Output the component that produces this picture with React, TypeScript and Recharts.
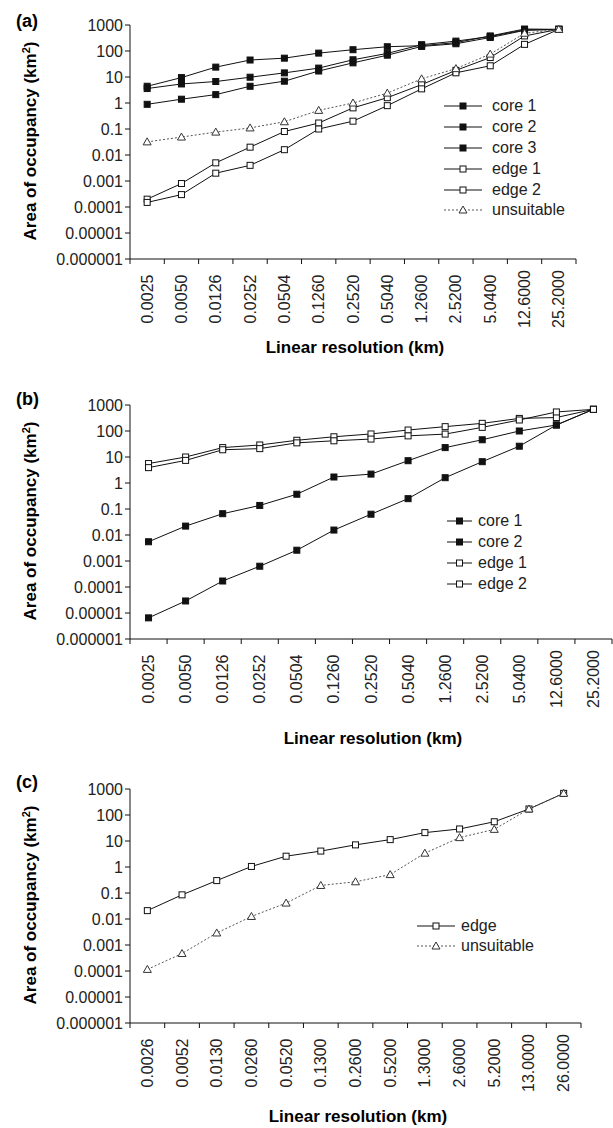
import React from "react";
import { LineChart, Line, XAxis, YAxis } from "recharts";

const FONT = "'Liberation Sans', Arial, Helvetica, sans-serif";

// x categories (linear resolution, km)
const resolutionsAB = ["0.0025", "0.0050", "0.0126", "0.0252", "0.0504", "0.1260", "0.2520", "0.5040", "1.2600", "2.5200", "5.0400", "12.6000", "25.2000"];
const resolutionsC = ["0.0026", "0.0052", "0.0130", "0.0260", "0.0520", "0.1300", "0.2600", "0.5200", "1.3000", "2.6000", "5.2000", "13.0000", "26.0000"];

const yTicks = [0.000001, 0.00001, 0.0001, 0.001, 0.01, 0.1, 1, 10, 100, 1000];
const yTickLabels = ["0.000001", "0.00001", "0.0001", "0.001", "0.01", "0.1", "1", "10", "100", "1000"];

// panel (a)
const aCore1 = [4.4, 9.5, 24, 45, 53, 83, 112, 146, 160, 210, 380, 700, 680];
const aCore2 = [3.6, 5.4, 6.7, 9.8, 14.4, 22, 46, 81, 175, 240, 360, 650, 680];
const aCore3 = [0.89, 1.4, 2.1, 4.4, 6.9, 17, 35, 69, 150, 190, 330, 620, 680];
const aEdge1 = [0.0002, 0.0008, 0.005, 0.02, 0.08, 0.17, 0.65, 1.6, 5.1, 18, 56, 380, 680];
const aEdge2 = [0.00015, 0.0003, 0.002, 0.004, 0.016, 0.1, 0.2, 0.79, 3.5, 14.5, 27, 180, 680];
const aUnsuitable = [0.032, 0.049, 0.076, 0.11, 0.19, 0.52, 1.0, 2.4, 8.5, 21, 76, 480, 680];

// panel (b)
const bCore1 = [0.0055, 0.022, 0.066, 0.137, 0.37, 1.7, 2.2, 7.2, 23, 46, 100, 170, 680];
const bCore2 = [0.0000065, 0.000029, 0.00017, 0.00063, 0.0026, 0.0155, 0.063, 0.25, 1.6, 6.6, 26, 170, 680];
const bEdge1 = [5.6, 10, 23, 29, 44, 60, 77, 109, 147, 197, 305, 330, 680];
const bEdge2 = [3.9, 7.4, 19, 21, 35, 42, 49, 65, 76, 138, 265, 540, 680];

// panel (c)
const cEdge = [0.021, 0.085, 0.3, 1.05, 2.6, 4.1, 7.1, 11.3, 21, 29, 55, 170, 680];
const cUnsuitable = [0.000115, 0.00047, 0.0029, 0.0125, 0.041, 0.195, 0.27, 0.51, 3.4, 13.5, 28, 170, 680];

type Kind = "core" | "edge" | "unsuitable";
type Series = { key: string; name: string; values: number[]; kind: Kind };

const seriesA: Series[] = [
  { key: "core1", name: "core 1", values: aCore1, kind: "core" },
  { key: "core2", name: "core 2", values: aCore2, kind: "core" },
  { key: "core3", name: "core 3", values: aCore3, kind: "core" },
  { key: "edge1", name: "edge 1", values: aEdge1, kind: "edge" },
  { key: "edge2", name: "edge 2", values: aEdge2, kind: "edge" },
  { key: "unsuitable", name: "unsuitable", values: aUnsuitable, kind: "unsuitable" },
];
const seriesB: Series[] = [
  { key: "core1", name: "core 1", values: bCore1, kind: "core" },
  { key: "core2", name: "core 2", values: bCore2, kind: "core" },
  { key: "edge1", name: "edge 1", values: bEdge1, kind: "edge" },
  { key: "edge2", name: "edge 2", values: bEdge2, kind: "edge" },
];
const seriesC: Series[] = [
  { key: "edge", name: "edge", values: cEdge, kind: "edge" },
  { key: "unsuitable", name: "unsuitable", values: cUnsuitable, kind: "unsuitable" },
];

const buildRows = (labels: string[], series: Series[]) =>
  labels.map((label, i) => {
    const row: any = { label };
    series.forEach((s) => {
      row[s.key] = s.values[i];
    });
    return row;
  });

const makeSquare = (fill: string) => (props: any) => {
  const { cx, cy, index } = props;
  if (cx == null || cy == null) return <g key={index} />;
  return <rect key={index} x={cx - 3} y={cy - 3} width={6} height={6} fill={fill} stroke="#111" strokeWidth={1} />;
};

const Triangle = (props: any) => {
  const { cx, cy, index } = props;
  if (cx == null || cy == null) return <g key={index} />;
  return (
    <path
      key={index}
      d={`M${cx},${cy - 4} L${cx + 4},${cy + 3} L${cx - 4},${cy + 3} Z`}
      fill="#fff"
      stroke="#333"
      strokeWidth={1}
    />
  );
};

const styleFor = (kind: Kind) => {
  if (kind === "core") return { stroke: "#111", dash: undefined, dot: makeSquare("#111") };
  if (kind === "edge") return { stroke: "#111", dash: undefined, dot: makeSquare("#fff") };
  return { stroke: "#555", dash: "2 2", dot: Triangle };
};

// tick marks sit on the category boundaries, labels are rotated and centred
const makeXTick = (bw: number, count: number) => (props: any) => {
  const { x, y, payload, index } = props;
  return (
    <g>
      <line x1={x - bw / 2} y1={y} x2={x - bw / 2} y2={y + 5} stroke="#111" />
      {index === count - 1 && <line x1={x + bw / 2} y1={y} x2={x + bw / 2} y2={y + 5} stroke="#111" />}
      <text
        x={x}
        y={y + 40}
        transform={`rotate(-90 ${x} ${y + 40})`}
        textAnchor="middle"
        dominantBaseline="central"
        fontSize={16}
        fontFamily={FONT}
        fill="#222"
      >
        {payload.value}
      </text>
    </g>
  );
};

const LegendBox = ({ series, left, top, lineLen, gap, rowH }: any) => (
  <div style={{ position: "absolute", left, top, fontFamily: FONT, fontSize: 16, color: "#222" }}>
    {series.map((s: Series) => {
      const st = styleFor(s.kind);
      const Dot = st.dot;
      return (
        <div key={s.key} style={{ display: "flex", alignItems: "center", height: rowH }}>
          <svg width={lineLen} height={12} style={{ display: "block" }}>
            <line x1={0} y1={6} x2={lineLen} y2={6} stroke={st.stroke} strokeDasharray={st.dash} />
            <Dot cx={lineLen / 2} cy={6} index={0} />
          </svg>
          <span style={{ marginLeft: gap, lineHeight: 1 }}>{s.name}</span>
        </div>
      );
    })}
  </div>
);

const Panel = ({ top, tag, tagTop, labels, series, marginRight, xTitleX, xTitleY, legend }: any) => {
  const chartW = 613;
  const plotLeft = 130;
  const plotH = 234;
  const chartH = 330;
  const bw = (chartW - marginRight - plotLeft) / labels.length;
  const rows = buildRows(labels, series);
  return (
    <div style={{ position: "absolute", left: 0, top, width: chartW, height: chartH }}>
      <LineChart
        width={chartW}
        height={chartH}
        data={rows}
        margin={{ top: 25, right: marginRight, left: 0, bottom: 0 }}
      >
        <XAxis
          dataKey="label"
          scale="band"
          height={chartH - 25 - plotH}
          interval={0}
          tickSize={0}
          tickMargin={0}
          tickLine={false}
          axisLine={{ stroke: "#111" }}
          tick={makeXTick(bw, labels.length)}
        />
        <YAxis
          type="number"
          scale="log"
          domain={[0.000001, 1000]}
          ticks={yTicks}
          allowDataOverflow
          interval={0}
          width={plotLeft}
          tickSize={5}
          tickMargin={2}
          axisLine={{ stroke: "#111" }}
          tickLine={{ stroke: "#111" }}
          tick={{ fontSize: 16, fontFamily: FONT, fill: "#222" }}
          tickFormatter={(_v: any, i: number) => yTickLabels[i]}
        />
        {series.map((s: Series) => {
          const st = styleFor(s.kind);
          return (
            <Line
              key={s.key}
              dataKey={s.key}
              name={s.name}
              type="linear"
              stroke={st.stroke}
              strokeWidth={1}
              strokeDasharray={st.dash}
              dot={st.dot}
              activeDot={false}
              isAnimationActive={false}
            />
          );
        })}
      </LineChart>
      <div
        style={{
          position: "absolute",
          left: 16,
          top: tagTop,
          fontFamily: FONT,
          fontWeight: "bold",
          fontSize: 18,
          lineHeight: 1,
        }}
      >
        {tag}
      </div>
      <div
        style={{
          position: "absolute",
          left: 30,
          top: 141,
          transform: "translate(-50%, -50%) rotate(-90deg)",
          whiteSpace: "nowrap",
          fontFamily: FONT,
          fontWeight: "bold",
          fontSize: 17,
          lineHeight: 1,
        }}
      >
        Area of occupancy (km<sup style={{ fontSize: 11 }}>2</sup>)
      </div>
      <div
        style={{
          position: "absolute",
          left: xTitleX,
          top: xTitleY,
          transform: "translate(-50%, -50%)",
          whiteSpace: "nowrap",
          fontFamily: FONT,
          fontWeight: "bold",
          fontSize: 17,
          lineHeight: 1,
        }}
      >
        Linear resolution (km)
      </div>
      <LegendBox series={series} {...legend} />
    </div>
  );
};

export default function App() {
  return (
    <div style={{ position: "absolute", left: 0, top: 0, width: 613, height: 1128, background: "#fff" }}>
      <Panel
        top={0}
        tag="(a)"
        tagTop={12}
        labels={resolutionsAB}
        series={seriesA}
        marginRight={37}
        xTitleX={355}
        xTitleY={347}
        legend={{ left: 444, top: 96, lineLen: 38, gap: 10, rowH: 20.8 }}
      />
      <Panel
        top={380}
        tag="(b)"
        tagTop={10}
        labels={resolutionsAB}
        series={seriesB}
        marginRight={1}
        xTitleX={373}
        xTitleY={358}
        legend={{ left: 447, top: 130, lineLen: 25, gap: 6, rowH: 21 }}
      />
      <Panel
        top={764}
        tag="(c)"
        tagTop={9}
        labels={resolutionsC}
        series={seriesC}
        marginRight={32}
        xTitleX={358}
        xTitleY={352}
        legend={{ left: 417, top: 152, lineLen: 38, gap: 6, rowH: 20 }}
      />
    </div>
  );
}
